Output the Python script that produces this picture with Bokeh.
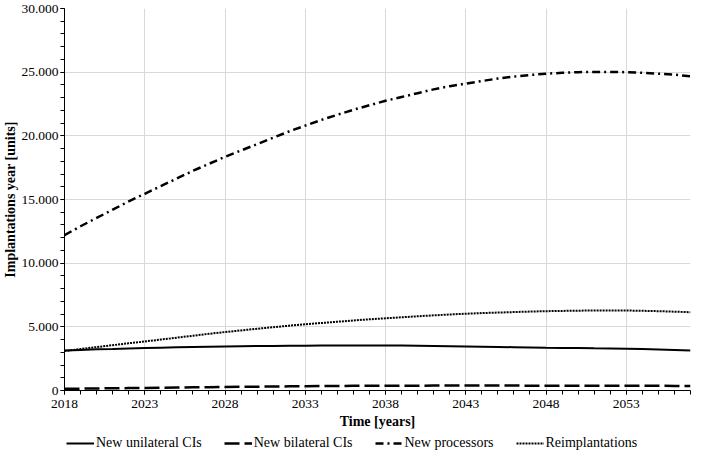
from bokeh.plotting import figure
from bokeh.models import FixedTicker, Legend, LegendItem
from bokeh.layouts import column
from bokeh.embed import file_html
from bokeh.resources import INLINE

years = list(range(2018, 2058))

unilateral = [3150, 3190, 3230, 3260, 3300, 3330, 3360, 3390, 3420, 3440,
              3460, 3475, 3490, 3500, 3510, 3520, 3530, 3535, 3540, 3540,
              3540, 3530, 3520, 3500, 3480, 3460, 3440, 3420, 3400, 3380,
              3360, 3345, 3330, 3310, 3295, 3280, 3250, 3220, 3190, 3150]

bilateral = [130, 145, 160, 175, 190, 205, 220, 235, 250, 265,
             280, 290, 300, 315, 325, 335, 345, 355, 365, 370,
             375, 380, 380, 385, 385, 385, 385, 385, 385, 380,
             380, 380, 378, 375, 372, 370, 368, 365, 362, 360]

processors = [12200, 12900, 13550, 14200, 14850, 15450, 16050, 16650, 17250, 17800,
              18350, 18850, 19350, 19850, 20350, 20800, 21250, 21650, 22050, 22400,
              22750, 23050, 23350, 23650, 23900, 24100, 24300, 24500, 24650, 24780,
              24880, 24950, 25000, 25020, 25020, 25000, 24950, 24880, 24800, 24680]

reimplantations = [3100, 3260, 3410, 3560, 3710, 3850, 4000, 4150, 4300, 4450,
                   4590, 4720, 4850, 4970, 5090, 5200, 5300, 5400, 5500, 5590,
                   5670, 5750, 5830, 5900, 5970, 6030, 6080, 6120, 6160, 6200,
                   6230, 6250, 6270, 6280, 6285, 6280, 6260, 6230, 6190, 6150]

series_names = ["New unilateral CIs", "New bilateral CIs", "New processors", "Reimplantations"]

x_major = [2018, 2023, 2028, 2033, 2038, 2043, 2048, 2053]
y_major = [0, 5000, 10000, 15000, 20000, 25000, 30000]
y_labels = ["0", "5.000", "10.000", "15.000", "20.000", "25.000", "30.000"]
y_minor = list(range(0, 31000, 1000))

FONT = "Liberation Serif"
styles = [
    dict(line_color="black", line_width=2),
    dict(line_color="black", line_width=2.5, line_dash="15 5"),
    dict(line_color="black", line_width=2.5, line_dash="8 4 2 4"),
    dict(line_color="black", line_width=2, line_dash="2 1"),
]

p = figure(width=692, height=431, x_range=(2018, 2057), y_range=(0, 30000),
           output_backend="svg", toolbar_location=None,
           min_border_left=0, min_border_right=2, min_border_top=8, min_border_bottom=0)
p.outline_line_color = None
p.background_fill_color = "white"

p.xaxis.ticker = FixedTicker(ticks=x_major, minor_ticks=years)
p.yaxis.ticker = FixedTicker(ticks=y_major, minor_ticks=y_minor)
p.yaxis.major_label_overrides = {v: s for v, s in zip(y_major, y_labels)}

for ax in (p.xaxis, p.yaxis):
    ax.axis_line_color = "black"
    ax.axis_line_width = 1
    ax.major_tick_line_color = "black"
    ax.minor_tick_line_color = "black"
    ax.major_tick_in = 0
    ax.minor_tick_in = 0
    ax.major_tick_out = 4
    ax.minor_tick_out = 4
    ax.major_label_text_font = FONT
    ax.major_label_text_font_size = "13.5px"
    ax.major_label_text_color = "black"
    ax.axis_label_text_font = FONT
    ax.axis_label_text_font_size = "14px"
    ax.axis_label_text_font_style = "bold"
    ax.axis_label_text_color = "black"

p.xaxis.axis_label = "Time [years]"
p.yaxis.axis_label = "Implantations year [units]"
p.xaxis.major_label_standoff = 5
p.xaxis.axis_label_standoff = 3
p.yaxis.major_label_standoff = 2
p.yaxis.axis_label_standoff = 0

p.xgrid.ticker = FixedTicker(ticks=x_major)
p.ygrid.ticker = FixedTicker(ticks=y_major)
p.xgrid.grid_line_color = "#d9d9d9"
p.ygrid.grid_line_color = "#d9d9d9"

all_series = [unilateral, bilateral, processors, reimplantations]
for vals, st in zip(all_series, styles):
    p.line(years, vals, **st)

# legend strip below the chart (its sample lines lie outside the visible range)
pl = figure(width=692, height=20, x_range=(0, 1), y_range=(0, 1),
            output_backend="svg", toolbar_location=None,
            x_axis_location=None, y_axis_location=None,
            min_border=0)
pl.outline_line_color = None
pl.grid.visible = False
items = []
for name, st in zip(series_names, styles):
    r = pl.line([5, 6], [5, 6], **st)
    items.append(LegendItem(label=name, renderers=[r]))

legend = Legend(items=items, orientation="horizontal", location=(2, 0))
legend.border_line_color = None
legend.background_fill_alpha = 0
legend.label_text_font = FONT
legend.label_text_font_size = "14px"
legend.label_text_color = "black"
legend.glyph_width = 28
legend.glyph_height = 14
legend.label_standoff = 2
legend.spacing = 22
legend.padding = 2
legend.margin = 0
pl.add_layout(legend)

layout = column(p, pl, spacing=0)
open("out.html", "w").write(file_html(layout, INLINE))
